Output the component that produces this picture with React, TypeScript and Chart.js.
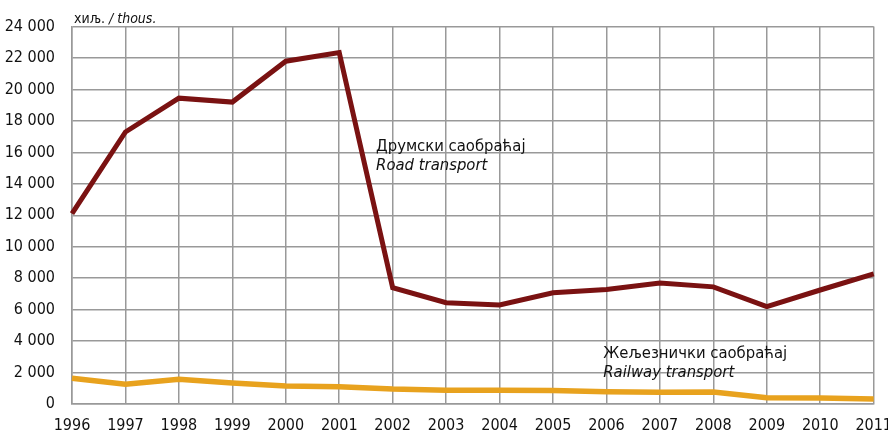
import React, { useEffect, useRef } from "react";
import { Chart, registerables } from "chart.js";

Chart.register(...registerables);

const years = ["1996","1997","1998","1999","2000","2001","2002","2003","2004","2005","2006","2007","2008","2009","2010","2011"];
const roadTransport = [12100, 17300, 19450, 19200, 21800, 22350, 7400, 6440, 6300, 7070, 7280, 7700, 7450, 6190, 7250, 8270];
const railwayTransport = [1640, 1260, 1580, 1330, 1150, 1100, 950, 880, 880, 860, 780, 740, 760, 400, 380, 320];
const unitLabel = ["хиљ. ", "/ thous."];
const roadLabel = ["Друмски саобраћај", "Road transport"];
const railLabel = ["Жељезнички саобраћај", "Railway transport"];

const FONT = "'Liberation Sans Narrow', 'DejaVu Sans Condensed', 'Liberation Sans', sans-serif";

const textPlugin = {
  id: "texts",
  afterDraw(chart: any) {
    const { ctx, chartArea, scales } = chart;
    const x = scales.x, y = scales.y;
    ctx.save();
    ctx.fillStyle = "#111";
    ctx.textBaseline = "alphabetic";
    ctx.textAlign = "left";
    ctx.font = `14px ${FONT}`;
    const w0 = ctx.measureText(unitLabel[0]).width;
    ctx.fillText(unitLabel[0], chartArea.left + 2, chartArea.top - 4);
    ctx.font = `italic 14px ${FONT}`;
    ctx.fillText(unitLabel[1], chartArea.left + 2 + w0, chartArea.top - 4);
    const drawLabel = (lines: string[], xi: number, yv: number) => {
      const px = x.getPixelForValue(xi);
      const py = y.getPixelForValue(yv);
      ctx.font = `16.5px ${FONT}`;
      ctx.fillText(lines[0], px, py);
      ctx.font = `italic 16.5px ${FONT}`;
      ctx.fillText(lines[1], px, py + 19);
    };
    drawLabel(roadLabel, 5.69, 16100);
    drawLabel(railLabel, 9.94, 2950);
    ctx.restore();
  },
};

export default function App() {
  const ref = useRef<HTMLCanvasElement | null>(null);
  useEffect(() => {
    document.body.style.margin = "0";
    const chart = new Chart(ref.current!, {
      type: "line",
      data: {
        labels: years,
        datasets: [
          { data: roadTransport, borderColor: "#7a1212", borderWidth: 5, pointRadius: 0, tension: 0 },
          { data: railwayTransport, borderColor: "#e8a21e", borderWidth: 5.5, pointRadius: 0, tension: 0 },
        ],
      },
      options: {
        animation: false,
        responsive: true,
        maintainAspectRatio: false,
        layout: { padding: { top: 20, right: 27, left: 0, bottom: 0 } },
        plugins: { legend: { display: false }, tooltip: { enabled: false } },
        scales: {
          x: {
            offset: false,
            grid: { color: "#999", lineWidth: 1.5, drawTicks: false },
            border: { color: "#999", width: 1.5 },
            ticks: { color: "#111", font: { family: FONT, size: 16 }, padding: 12, maxRotation: 0, autoSkip: false },
            afterFit: (s: any) => { s.height = 34; },
          },
          y: {
            min: 0,
            max: 24000,
            grid: { color: "#999", lineWidth: 1.5, drawTicks: false },
            border: { color: "#999", width: 1.5 },
            ticks: {
              stepSize: 2000,
              color: "#111",
              font: { family: FONT, size: 16 },
              padding: 17,
              callback: (v: any) => {
                const n = Number(v);
                return n >= 1000 ? `${Math.floor(n / 1000)} ${String(n % 1000).padStart(3, "0")}` : String(n);
              },
            },
            afterFit: (s: any) => { s.width = 72; },
          },
        },
      },
      plugins: [textPlugin],
    });
    return () => chart.destroy();
  }, []);
  return (
    <div style={{ width: 888, height: 438, overflow: "hidden", position: "relative" }}>
      <div style={{ width: 904, height: 438, position: "absolute", left: 0, top: 0 }}>
        <canvas ref={ref} />
      </div>
    </div>
  );
}
